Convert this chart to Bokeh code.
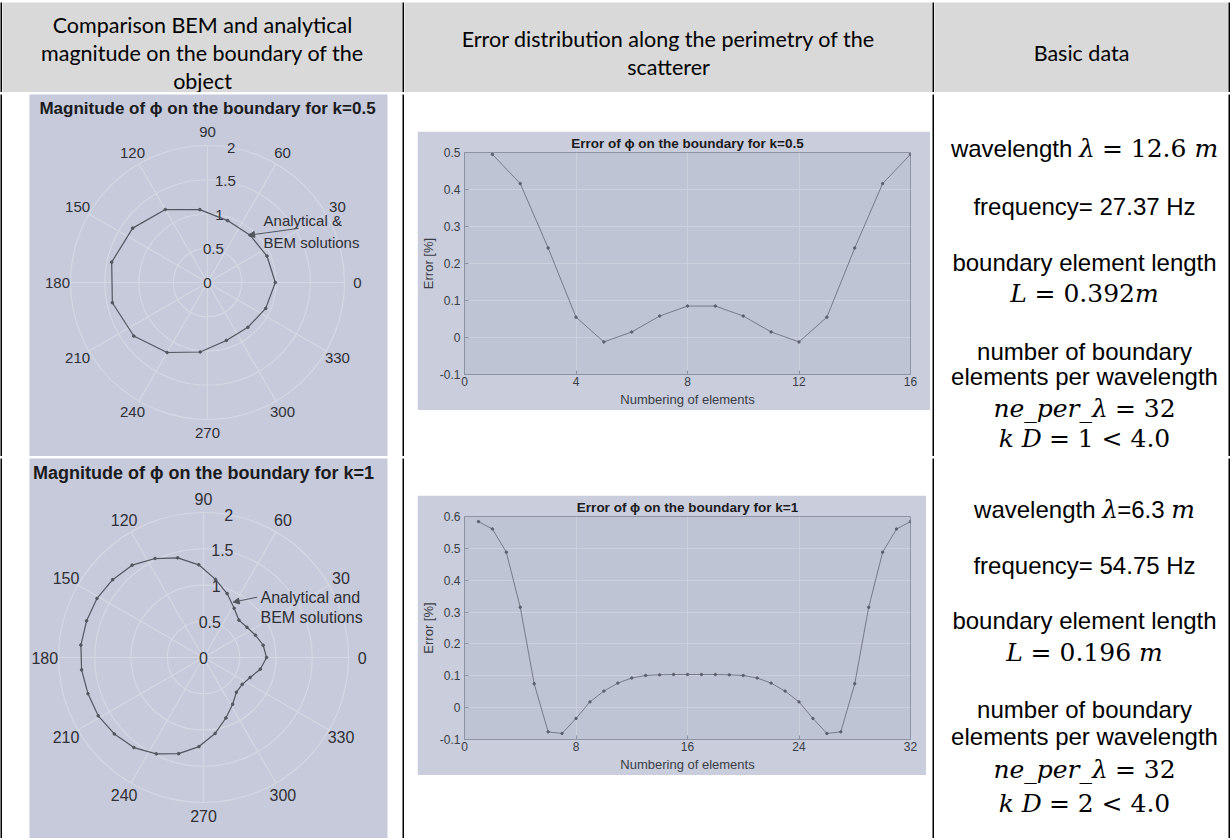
import math
from bokeh.plotting import figure
from bokeh.layouts import row, column
from bokeh.models import Range1d, FixedTicker, Arrow, NormalHead, Spacer
from bokeh.core.properties import value
from bokeh.embed import file_html
from bokeh.resources import INLINE
from bokeh.core.validation import silence
from bokeh.core.validation.warnings import MISSING_RENDERERS

silence(MISSING_RENDERERS, True)

# ---------------- data ----------------
header_col1 = ["Comparison BEM and analytical", "magnitude on the boundary of the", "object"]
header_col2 = ["Error distribution along the perimetry of the", "scatterer"]
header_col3 = ["Basic data"]

theta_grid_deg = [0, 30, 60, 90, 120, 150, 180, 210, 240, 270, 300, 330]
theta_grid_labels = ["0", "30", "60", "90", "120", "150", "180", "210", "240", "270", "300", "330"]
rho_grid = [0.5, 1.0, 1.5, 2.0]
rho_ticks = [0, 0.5, 1, 1.5, 2]
rho_tick_labels = ["0", "0.5", "1", "1.5", "2"]

k05_theta_deg = [0, 24, 48, 72, 96, 120, 144, 168, 192, 216, 240, 264, 288, 312, 336]
k05_magnitude = [0.99, 0.95, 0.93, 0.95, 1.07, 1.23, 1.35, 1.43, 1.42, 1.33, 1.18, 1.02, 0.89, 0.88, 0.93]

k1_theta_deg = [0.0, 11.6, 23.2, 34.8, 46.5, 58.1, 69.7, 81.3, 92.9, 104.5, 116.1, 127.7,
                139.4, 151.0, 162.6, 174.2, 185.8, 197.4, 209.0, 220.6, 232.3, 243.9, 255.5,
                267.1, 278.7, 290.3, 301.9, 313.5, 325.2, 336.8, 348.4]
k1_magnitude = [0.87, 0.84, 0.78, 0.73, 0.71, 0.80, 0.94, 1.09, 1.28, 1.42, 1.52, 1.61,
                1.65, 1.68, 1.69, 1.70, 1.69, 1.67, 1.66, 1.62, 1.57, 1.48, 1.37,
                1.23, 1.06, 0.89, 0.76, 0.66, 0.65, 0.70, 0.80]

k05_elements = list(range(1, 17))
k05_error = [0.495, 0.416, 0.242, 0.055, -0.012, 0.015, 0.058, 0.085,
             0.085, 0.058, 0.015, -0.012, 0.055, 0.242, 0.416, 0.495]
k1_elements = list(range(1, 33))
k1_error = [0.584, 0.561, 0.488, 0.315, 0.075, -0.076, -0.081, -0.034, 0.018, 0.052, 0.077,
            0.093, 0.101, 0.103, 0.104, 0.104, 0.104, 0.104, 0.103, 0.101, 0.093, 0.077,
            0.052, 0.018, -0.034, -0.081, -0.076, 0.075, 0.315, 0.488, 0.561, 0.584]

k05_xticks = [0, 4, 8, 12, 16]
k1_xticks = [0, 8, 16, 24, 32]
k05_yticks = [-0.1, 0.0, 0.1, 0.2, 0.3, 0.4, 0.5]
k05_ytick_labels = ["-0.1", "0", "0.1", "0.2", "0.3", "0.4", "0.5"]
k1_yticks = [-0.1, 0.0, 0.1, 0.2, 0.3, 0.4, 0.5, 0.6]
k1_ytick_labels = ["-0.1", "0", "0.1", "0.2", "0.3", "0.4", "0.5", "0.6"]

polar_titles = ["Magnitude of ϕ on the boundary for k=0.5", "Magnitude of ϕ on the boundary for k=1"]
error_titles = ["Error of ϕ on the boundary for k=0.5", "Error of ϕ on the boundary for k=1"]
annot_k05 = ["Analytical &", "BEM solutions"]
annot_k1 = ["Analytical and", "BEM solutions"]

info_k05 = [
    [("wavelength ", "sans"), ("λ", "it"), (" = 12.6 ", "serif"), ("m", "it")],
    [("frequency= 27.37 Hz", "sans")],
    [("boundary element length", "sans")],
    [("L", "it"), (" = 0.392", "serif"), ("m", "it")],
    [("number of boundary", "sans")],
    [("elements per wavelength", "sans")],
    [("ne_per_λ", "it"), (" = 32", "serif")],
    [("k D", "it"), (" = 1 < 4.0", "serif")],
]
info_k1 = [
    [("wavelength ", "sans"), ("λ", "it"), ("=6.3 ", "sans"), ("m", "it")],
    [("frequency= 54.75 Hz", "sans")],
    [("boundary element length", "sans")],
    [("L", "it"), (" = 0.196 ", "serif"), ("m", "it")],
    [("number of boundary", "sans")],
    [("elements per wavelength", "sans")],
    [("ne_per_λ", "it"), (" = 32", "serif")],
    [("k D", "it"), (" = 2 < 4.0", "serif")],
]

# ---------------- layout constants ----------------
BLACK = "#000000"
HEAD_BG = "#d9d9d9"
POLAR_BG = "#c6cadb"
POLAR_GRID = "#d5d8e2"
CURVE_C = "#52565f"
LABEL_C = "#303036"
FIG_BG = "#c9cddc"
AX_BG = "#bfc4d5"
AX_LINE = "#8e93a3"
GRID_C = "#cdd1de"
ERR_LINE = "#767a87"

SANS = "Liberation Sans"
SERIF = "DejaVu Serif"
HEAD_FONT = "Lato"

C1W, C2W, C3W = 400, 528, 294
HH, R1H, R2H = 90, 362, 380
TW = 2 + C1W + 2 + C2W + 2 + C3W + 2

SANS_W = {' ': .278, '=': .584, '.': .278, 'H': .722, 'a': .556, 'b': .556, 'c': .5, 'd': .556,
          'e': .556, 'f': .278, 'g': .556, 'h': .556, 'l': .222, 'm': .833, 'n': .556, 'o': .556,
          'p': .556, 'q': .556, 'r': .333, 's': .5, 't': .278, 'u': .556, 'v': .5, 'w': .722,
          'y': .5, 'z': .5}
SERIF_W = {' ': .318, '=': .838, '<': .838, '.': .318}
ITAL_W = {' ': .318, 'L': .653, 'm': .948, 'k': .6, 'D': .77, 'n': .64, 'e': .592, 'p': .64,
          'r': .478, '_': .5, 'λ': .6}
SANS_FS = 24
MATH_FS = 25


def char_table(kind):
    if kind == "sans":
        return SANS_W, .556, SANS_FS
    if kind == "serif":
        return SERIF_W, .636, MATH_FS
    return ITAL_W, .6, MATH_FS


def seg_width(txt, kind):
    tab, dflt, fs = char_table(kind)
    return sum(tab.get(c, dflt) for c in txt) * fs


def block(w, h, color):
    return figure(width=w, height=h, x_range=Range1d(0, 1), y_range=Range1d(0, 1),
                  x_axis_type=None, y_axis_type=None, toolbar_location=None,
                  output_backend="svg", min_border=0,
                  background_fill_color=color, border_fill_color=color, outline_line_color=None)


def plain_cell(w, h, bg):
    return figure(width=w, height=h, x_range=Range1d(0, w), y_range=Range1d(h, 0),
                  x_axis_type=None, y_axis_type=None, toolbar_location=None,
                  output_backend="svg", min_border=0,
                  background_fill_color=bg, border_fill_color=bg, outline_line_color=None)


def header_cell(w, lines, baselines):
    p = plain_cell(w, HH, HEAD_BG)
    p.text(x=[w / 2] * len(lines), y=baselines, text=lines, text_font=value(HEAD_FONT),
           text_font_size="21.5px", text_align="center", text_baseline="alphabetic",
           text_color="black")
    return p


def info_cell(w, h, lines, baselines, cx):
    p = plain_cell(w, h, "white")
    for segs, yb in zip(lines, baselines):
        widths = [seg_width(t, k) for t, k in segs]
        x = cx - sum(widths) / 2
        for (t, k), wd in zip(segs, widths):
            if k == "sans":
                font, style, fs = SANS, "normal", SANS_FS
            elif k == "serif":
                font, style, fs = SERIF, "normal", MATH_FS
            else:
                font, style, fs = SERIF, "italic", MATH_FS
            stripped = t.strip(" ")
            lead = len(t) - len(t.lstrip(" "))
            x_draw = x + seg_width(" " * lead, k)
            p.text(x=[x_draw], y=[yb], text=[stripped], text_font=value(font),
                   text_font_style=style, text_font_size=f"{fs}px", text_align="left",
                   text_baseline="alphabetic", text_color="black")
            x += wd
    return p


def polar_panel(width, height, pad_l, pad_r, cx, cy, scale, fs, title, theta_deg, mag,
                ann_lines, ann_x, ann_y, arrow_pts):
    fw = width - pad_l - pad_r
    p = figure(width=width, height=height,
               x_range=Range1d(-cx / scale, (fw - cx) / scale),
               y_range=Range1d(-(height - cy) / scale, cy / scale),
               x_axis_type=None, y_axis_type=None, toolbar_location=None, output_backend="svg",
               min_border_left=pad_l, min_border_right=pad_r, min_border_top=0, min_border_bottom=0,
               background_fill_color=POLAR_BG, border_fill_color="white", outline_line_color=None)
    rmax = rho_grid[-1]
    p.circle(x=[0] * len(rho_grid), y=[0] * len(rho_grid), radius=rho_grid,
             fill_color=None, line_color=POLAR_GRID, line_width=1.2)
    th = [math.radians(t) for t in theta_grid_deg]
    p.segment(x0=[0] * len(th), y0=[0] * len(th),
              x1=[rmax * math.cos(t) for t in th], y1=[rmax * math.sin(t) for t in th],
              line_color=POLAR_GRID, line_width=1.2)
    rl = rmax * 1.095
    p.text(x=[rl * math.cos(t) for t in th], y=[rl * math.sin(t) for t in th],
           text=theta_grid_labels, text_font=value(SANS), text_font_size=f"{fs}px",
           text_align="center", text_baseline="middle", text_color=LABEL_C)
    a = math.radians(80)
    p.text(x=[r * math.cos(a) for r in rho_ticks], y=[r * math.sin(a) for r in rho_ticks],
           text=rho_tick_labels, text_font=value(SANS), text_font_size=f"{fs}px",
           text_align="center", text_baseline="middle", text_color=LABEL_C)
    xs = [m * math.cos(math.radians(t)) for t, m in zip(theta_deg, mag)]
    ys = [m * math.sin(math.radians(t)) for t, m in zip(theta_deg, mag)]
    p.line(xs + xs[:1], ys + ys[:1], line_color=CURVE_C, line_width=1.2)
    p.scatter(xs, ys, size=2.6, color=CURVE_C)
    p.text(x=[0], y=[2.54], text=[title], text_font=value(SANS), text_font_style="bold",
           text_font_size=f"{fs + 2}px", text_align="center", text_baseline="middle",
           text_color="#1b1b20")
    p.text(x=[ann_x, ann_x], y=ann_y, text=ann_lines, text_font=value(SANS),
           text_font_size=f"{fs}px", text_align="left", text_baseline="middle",
           text_color=LABEL_C)
    (x0, y0), (x1, y1) = arrow_pts
    p.add_layout(Arrow(end=NormalHead(size=6, fill_color=CURVE_C, line_color=CURVE_C),
                       x_start=x0, y_start=y0, x_end=x1, y_end=y1,
                       line_color=CURVE_C, line_width=1))
    return p


def error_panel(width, height, bl, br, bt, bb, elements, err, xticks, yticks, ylabels, title):
    p = figure(width=width, height=height,
               x_range=Range1d(xticks[0], xticks[-1]), y_range=Range1d(yticks[0], yticks[-1]),
               toolbar_location=None, output_backend="svg",
               min_border_left=bl, min_border_right=br, min_border_top=bt, min_border_bottom=bb,
               background_fill_color=AX_BG, border_fill_color=FIG_BG,
               outline_line_color=AX_LINE, title=title)
    p.title.align = "center"
    p.title.text_font = SANS
    p.title.text_font_size = "13.5px"
    p.title.text_font_style = "bold"
    p.title.text_color = "#1b1b20"
    p.title.standoff = 3
    p.xaxis.ticker = FixedTicker(ticks=xticks)
    p.xaxis.major_label_overrides = {t: str(t) for t in xticks}
    p.yaxis.ticker = FixedTicker(ticks=yticks)
    p.yaxis.major_label_overrides = dict(zip(yticks, ylabels))
    p.xgrid.ticker = FixedTicker(ticks=xticks)
    p.ygrid.ticker = FixedTicker(ticks=yticks)
    p.grid.grid_line_color = GRID_C
    p.grid.grid_line_width = 1
    for ax in (p.xaxis[0], p.yaxis[0]):
        ax.axis_line_color = AX_LINE
        ax.major_tick_line_color = AX_LINE
        ax.major_tick_in = 4
        ax.major_tick_out = 0
        ax.minor_tick_line_color = None
        ax.major_label_text_font = SANS
        ax.major_label_text_font_size = "12px"
        ax.major_label_text_color = "#3a3d46"
        ax.axis_label_text_font = SANS
        ax.axis_label_text_font_size = "13px"
        ax.axis_label_text_font_style = "normal"
        ax.axis_label_text_color = "#3a3d46"
    p.xaxis.axis_label = "Numbering of elements"
    p.yaxis.axis_label = "Error [%]"
    p.xaxis.major_label_standoff = 2
    p.xaxis.axis_label_standoff = 3
    p.yaxis.major_label_standoff = 4
    p.yaxis.axis_label_standoff = 1
    p.line(elements, err, line_color=ERR_LINE, line_width=1)
    p.scatter(elements, err, size=2.4, color="#5b5f6b")
    return p


def error_cell(fig, cell_w, cell_h, left, top):
    fw, fh = fig.width, fig.height
    return column(Spacer(width=cell_w, height=top),
                  row(Spacer(width=left, height=fh), fig, Spacer(width=cell_w - left - fw, height=fh)),
                  Spacer(width=cell_w, height=cell_h - top - fh))


# ---------------- build ----------------
hdr1 = header_cell(C1W, header_col1, [22, 50, 78])
hdr2 = header_cell(C2W, header_col2, [36, 64])
hdr3 = header_cell(C3W, header_col3, [50])

polar1 = polar_panel(C1W, R1H, 27, 15, 178, 188, 68.5, 15, polar_titles[0],
                     k05_theta_deg, k05_magnitude, annot_k05, 0.818, [0.905, 0.584],
                     ((1.33, 0.79), (0.60, 0.69)))
polar2 = polar_panel(C1W, R2H, 27, 15, 174, 199, 72.5, 16, polar_titles[1],
                     k1_theta_deg, k1_magnitude, annot_k1, 0.786, [0.828, 0.552],
                     ((0.74, 0.832), (0.41, 0.763)))

err1 = error_panel(513, 279, 45, 20, 21, 36, k05_elements, k05_error, k05_xticks,
                   k05_yticks, k05_ytick_labels, error_titles[0])
err2 = error_panel(509, 280, 42, 16, 21, 36, k1_elements, k1_error, k1_xticks,
                   k1_yticks, k1_ytick_labels, error_titles[1])

info1 = info_cell(C3W, R1H, info_k05, [54, 112, 168, 199, 257, 282, 314, 344], 150)
info2 = info_cell(C3W, R2H, info_k1, [51, 107, 162, 194, 251, 278, 311, 345], 150)


def vbar(h):
    return block(2, h, BLACK)


layout = column(
    block(TW, 2, BLACK),
    row(vbar(HH), hdr1, vbar(HH), hdr2, vbar(HH), hdr3, vbar(HH)),
    block(TW, 2, BLACK),
    row(vbar(R1H), polar1, vbar(R1H), error_cell(err1, C2W, R1H, 13, 37), vbar(R1H), info1, vbar(R1H)),
    row(block(2, 2, BLACK), block(C1W, 2, "white"), block(TW - 2 - C1W, 2, BLACK)),
    row(vbar(R2H), polar2, vbar(R2H), error_cell(err2, C2W, R2H, 13, 37), vbar(R2H), info2, vbar(R2H)),
)

open("out.html", "w").write(file_html(layout, INLINE))
